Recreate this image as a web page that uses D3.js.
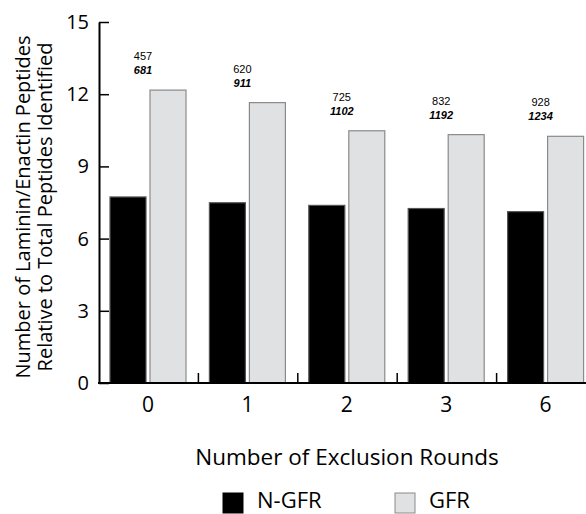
<!DOCTYPE html>
<html>
<head>
<meta charset="utf-8">
<script src="https://cdn.jsdelivr.net/npm/d3@7/dist/d3.min.js"></script>
<style>
  html, body { margin: 0; padding: 0; background: #fff; }
  svg { display: block; }
  .axis text { font-family: "Open Sans", "Noto Sans", sans-serif; fill: #000; }
  .title { font-family: "Open Sans", "Noto Sans", sans-serif; fill: #000; }
  .count { font-family: "Liberation Sans", Arial, sans-serif; font-size: 11px; fill: #000; }
</style>
</head>
<body>
<script>
// values
const rounds = ["0", "1", "2", "3", "6"];
const series = ["N-GFR", "GFR"];
const nGfr = [7.73, 7.49, 7.38, 7.25, 7.12];
const gfr = [12.17, 11.65, 10.48, 10.32, 10.25];
const nGfrCounts = ["457", "620", "725", "832", "928"];
const gfrCounts = ["681", "911", "1102", "1192", "1234"];
const yTicks = [0, 3, 6, 9, 12, 15];

const W = 586, H = 514;
const colors = { "N-GFR": "#000", "GFR": "#e0e1e3" };

const svg = d3.select("body").append("svg").attr("width", W).attr("height", H);

const x = d3.scaleBand().domain(rounds).range([99, 596]);
const xs = d3.scaleBand().domain(series).range([11, 87]).paddingInner(0.1);
const y = d3.scaleLinear().domain([0, 15]).range([383, 22]);

const rows = rounds.map((r, i) => ({ round: r, vals: [nGfr[i], gfr[i]], a: nGfrCounts[i], b: gfrCounts[i] }));

// bars
const groups = svg.selectAll("g.grp").data(rows).join("g").attr("class", "grp")
  .attr("transform", d => `translate(${x(d.round)},0)`);
groups.selectAll("rect").data(d => series.map((s, j) => ({ s, v: d.vals[j] }))).join("rect")
  .attr("x", d => xs(d.s)).attr("width", xs.bandwidth())
  .attr("y", d => y(d.v)).attr("height", d => y(0) - y(d.v))
  .attr("fill", d => colors[d.s])
  .attr("stroke", d => d.s === "GFR" ? "#8a8a8a" : "#555")
  .attr("stroke-width", 1.2);

// count annotations above each pair
groups.append("text").attr("class", "count")
  .attr("x", 44).attr("y", d => y(d.vals[1]) - 30)
  .attr("text-anchor", "middle").text(d => d.a);
groups.append("text").attr("class", "count")
  .attr("x", 44).attr("y", d => y(d.vals[1]) - 16)
  .attr("text-anchor", "middle")
  .style("font-style", "italic").style("font-weight", "bold")
  .text(d => d.b);

// y axis
svg.append("g").attr("class", "axis").attr("transform", "translate(99,0)")
  .call(d3.axisLeft(y).tickValues(yTicks).tickSize(-10).tickSizeOuter(0).tickPadding(10))
  .call(g => g.select(".domain").attr("stroke", "#000").attr("stroke-width", 2))
  .call(g => g.selectAll(".tick line").attr("stroke", "#000").attr("stroke-width", 1.5))
  .call(g => g.selectAll("text").style("font-size", "20px"));

// x axis
svg.append("line").attr("x1", 98).attr("x2", W).attr("y1", y(0)).attr("y2", y(0))
  .attr("stroke", "#000").attr("stroke-width", 2);
svg.selectAll("line.sep").data(rounds.slice(1)).join("line").attr("class", "sep")
  .attr("x1", d => x(d)).attr("x2", d => x(d))
  .attr("y1", y(0)).attr("y2", y(0) - 10)
  .attr("stroke", "#000").attr("stroke-width", 1.5);
svg.selectAll("text.xl").data(rounds).join("text").attr("class", "title xl")
  .attr("x", d => x(d) + 49).attr("y", 412)
  .attr("text-anchor", "middle").style("font-size", "21px").text(d => d);

// titles
svg.append("text").attr("class", "title")
  .attr("x", 347).attr("y", 465).attr("text-anchor", "middle")
  .style("font-size", "22.5px").text("Number of Exclusion Rounds");
const yt = svg.append("text").attr("class", "title")
  .attr("transform", "translate(30,207) rotate(-90)")
  .attr("text-anchor", "middle").style("font-size", "20px");
yt.append("tspan").attr("x", 0).attr("y", 0).text("Number of Laminin/Enactin Peptides");
yt.append("tspan").attr("x", 0).attr("y", 22).text("Relative to Total Peptides Identified");

// legend
const leg = svg.selectAll("g.leg").data(series).join("g").attr("class", "leg")
  .attr("transform", (d, i) => `translate(${[223, 395][i]},493)`);
leg.append("rect").attr("width", 20).attr("height", 20)
  .attr("fill", d => colors[d]).attr("stroke", d => d === "GFR" ? "#8a8a8a" : "#000");
leg.append("text").attr("class", "title").attr("x", 34).attr("y", 15)
  .style("font-size", "22px").text(d => d);
</script>
</body>
</html>
